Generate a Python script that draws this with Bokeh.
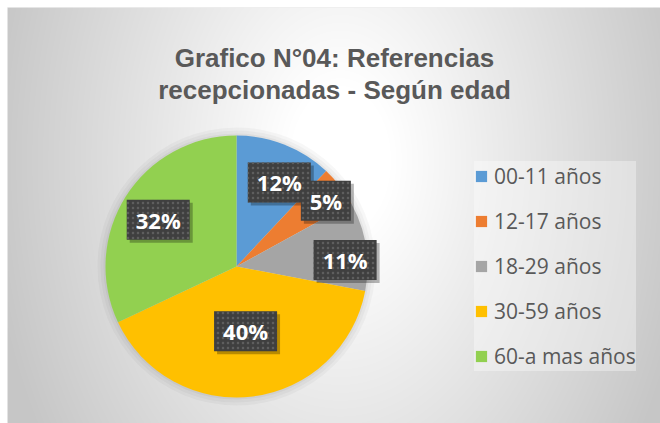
import numpy as np
from bokeh.plotting import figure
from bokeh.models import ColumnDataSource, Range1d, Legend, LegendItem
from bokeh.core.properties import value
from bokeh.embed import file_html
from bokeh.resources import INLINE

# ---- data ----
categories = ["00-11 años", "12-17 años", "18-29 años", "30-59 años", "60-a mas años"]
percents = [12, 5, 11, 40, 32]
colors = ["#5B9BD5", "#ED7D31", "#A5A5A5", "#FFC000", "#92D050"]
title_lines = ["Grafico N°04: Referencias", "recepcionadas - Según edad"]

# ---- layout (pixel-like data coordinates) ----
FW, FH = 660, 423
ML, MT = 7, 7
W, H = FW - ML, FH - MT
X0 = ML           # data x of frame left edge
TOP = FH          # data y = TOP - screen_y
cx, cy, R = 236, TOP - 266, 131
label_r = [0.71, 0.84, 0.83, 0.51, 0.69]
label_shift = [5.8, 2.1, 6.4, -0.6, -2.4]

p = figure(width=FW, height=FH, output_backend="svg", toolbar_location=None,
           x_range=Range1d(X0, X0 + W), y_range=Range1d(0, H),
           min_border_left=ML, min_border_top=MT, min_border_right=0, min_border_bottom=0)
p.axis.visible = False
p.grid.visible = False
p.outline_line_color = "#eeeeee"
p.border_fill_color = "white"
p.background_fill_color = "#e0e0e0"

# radial gradient background
yy, xx = np.mgrid[0:H, 0:W]
sx_ = xx + X0 + 0.5
sy_ = TOP - (yy + 0.5)
d = np.sqrt(((sx_ - 340) / 340.0) ** 2 + ((sy_ - 160) / 500.0) ** 2)
t = np.clip((d - 0.15) / 0.9, 0, 1)
g = (255 - 57 * t).astype(np.uint8)
img = np.empty((H, W), dtype=np.uint32)
view = img.view(dtype=np.uint8).reshape((H, W, 4))
view[:, :, 0] = g
view[:, :, 1] = g
view[:, :, 2] = g
view[:, :, 3] = 255
p.image_rgba(image=[img], x=X0, y=0, dw=W, dh=H)

# soft halo around pie
for extra, a in [(8, 0.03), (5, 0.03), (2, 0.04)]:
    p.circle(x=cx, y=cy, radius=R + extra, fill_color="black", fill_alpha=a, line_color=None)

# pie wedges
total = float(sum(percents))
cum = np.concatenate([[0], np.cumsum(percents)]) / total
start = np.pi / 2 - 2 * np.pi * cum[:-1]
end = np.pi / 2 - 2 * np.pi * cum[1:]
src = ColumnDataSource(dict(start=start, end=end, color=colors, cat=categories))
wr = p.wedge(x=cx, y=cy, radius=R, start_angle="start", end_angle="end", direction="clock",
             fill_color="color", line_color=None, source=src)

# data labels
mid = (cum[:-1] + cum[1:]) / 2 * 360.0
ang = np.radians(mid + np.array(label_shift))
lr = np.array(label_r) * R
lx = cx + lr * np.sin(ang)
ly = cy + lr * np.cos(ang) + 1.5
texts = [f"{v}%" for v in percents]
bw = [37 + 13 * len(str(v)) for v in percents]
lsrc = ColumnDataSource(dict(x=lx, y=ly, sx=lx + 3, sy=ly - 3, w=bw, t=texts))
p.rect(x="sx", y="sy", width="w", height=40, fill_color="black", fill_alpha=0.28,
       line_color=None, source=lsrc)
p.rect(x="x", y="y", width="w", height=40, fill_color="#3f3f3f", line_color=None,
       hatch_pattern="dot", hatch_color="#5e5e5e", hatch_scale=5, hatch_weight=2,
       source=lsrc)
p.text(x="x", y="y", text="t", text_align="center", text_baseline="middle",
       text_font=value("Open Sans"), text_font_style="bold", text_font_size="22px",
       text_color="white", source=lsrc)

# title
p.text(x=[334, 334], y=[TOP - 57, TOP - 89], text=title_lines, text_align="center",
       text_baseline="alphabetic", text_font=value("Liberation Sans"),
       text_font_style="bold", text_font_size="26px", text_color="#595959")

# legend
items = [LegendItem(label=c, renderers=[wr], index=i) for i, c in enumerate(categories)]
legend = Legend(items=items, location=(467, 52), orientation="vertical",
                glyph_width=14, glyph_height=14, label_height=30, label_standoff=6,
                spacing=15, padding=10, margin=0,
                label_text_font="Open Sans", label_text_font_size="21px",
                label_text_color="#595959",
                background_fill_color="white", background_fill_alpha=0.35,
                border_line_color=None)
p.add_layout(legend, "center")

open("out.html", "w").write(file_html(p, INLINE))
